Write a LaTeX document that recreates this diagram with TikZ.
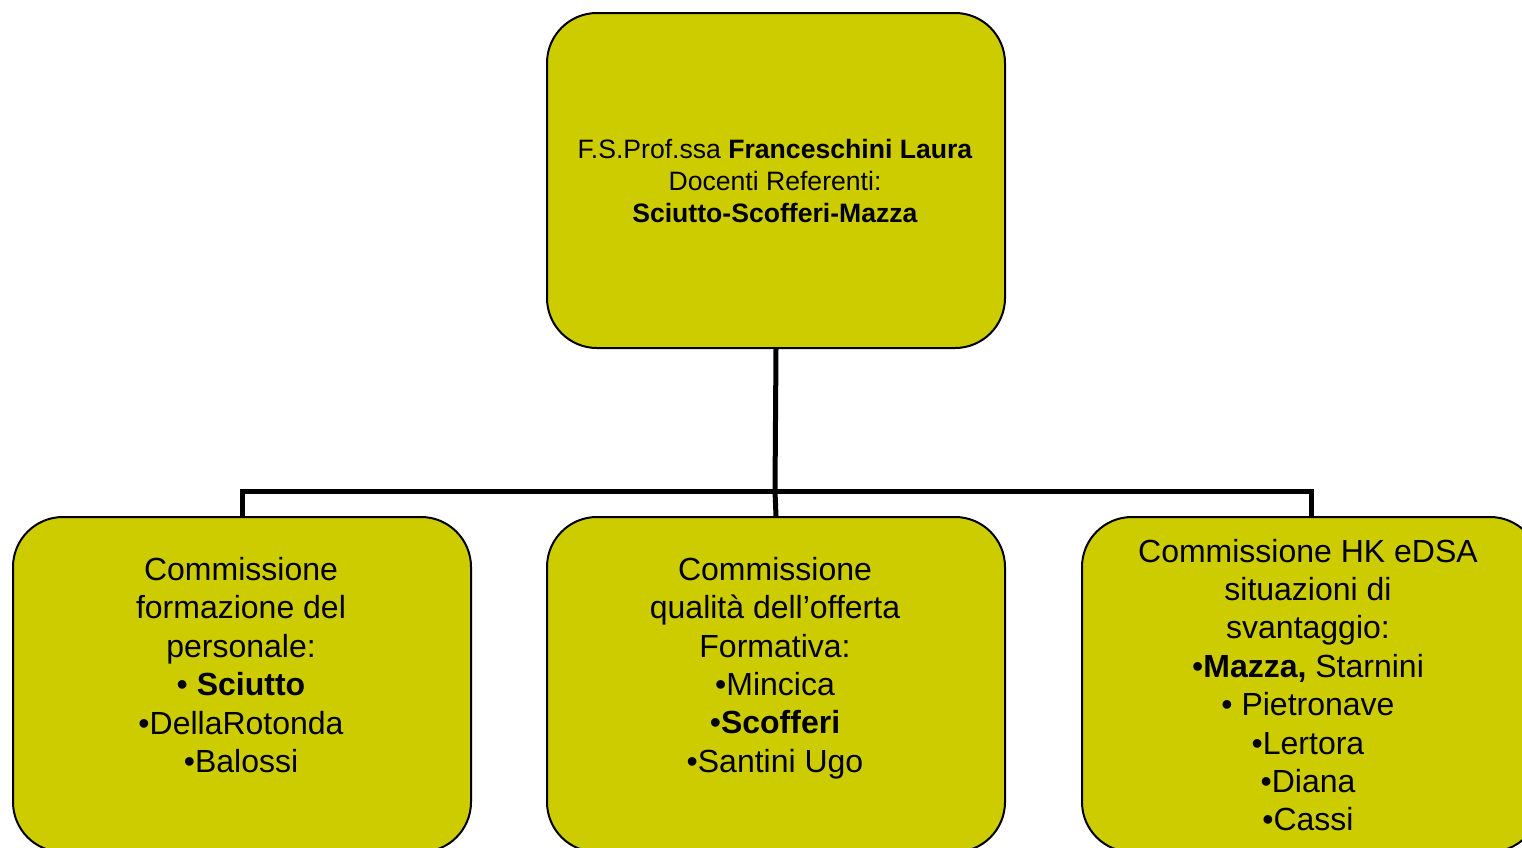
\documentclass[tikz,border=0pt]{standalone}
\usepackage{fontspec}
\setmainfont{Liberation Sans}
\definecolor{boxfill}{HTML}{CCCC00}
\begin{document}
\begin{tikzpicture}[x=0.5pt,y=-0.5pt,
  orgbox/.style={draw=black,line width=1pt,fill=boxfill,rounded corners=25pt,
    minimum width=229pt,minimum height=167.5pt,inner sep=0pt,anchor=north west},
  toptext/.style={align=center,font=\fontsize{13.3}{16}\selectfont,inner sep=0pt},
  bottext/.style={align=center,font=\fontsize{16}{19.2}\selectfont,inner sep=0pt},
  conn/.style={line width=2.5pt,line join=miter}]
\useasboundingbox (0,0) rectangle (1522,847);
\clip (0,0) rectangle (1522,847);
\node[orgbox] (top) at (546,12) {};
\node[orgbox] (left) at (12,516) {};
\node[orgbox] (mid) at (546,516) {};
\node[orgbox] (right) at (1081,516) {};
\coordinate (bus) at (775,491);
\draw[conn] (top.south) -- (bus);
\draw[conn] (left.north) |- (bus) -| (right.north);
\draw[conn] (bus) -- (mid.north);
\node[toptext] (ttop) at (775,181) {F.S.Prof.ssa \textbf{Franceschini Laura}\\Docenti Referenti:\\\textbf{Sciutto-Scofferi-Mazza}};
\node[bottext] (tleft) at (241,665) {Commissione\\ formazione del\\personale:\\• \textbf{Sciutto}\\•DellaRotonda\\•Balossi};
\node[bottext] (tmid) at (775,668) {Commissione\\qualità dell’offerta\\Formativa:\\•Mincica\\•\textbf{Scofferi}\\•Santini Ugo};
\node[bottext] (tright) at (1308,685) {Commissione HK eDSA\\situazioni di\\svantaggio:\\•\textbf{Mazza,} Starnini\\• Pietronave\\•Lertora\\•Diana\\•Cassi};
\end{tikzpicture}
\end{document}
